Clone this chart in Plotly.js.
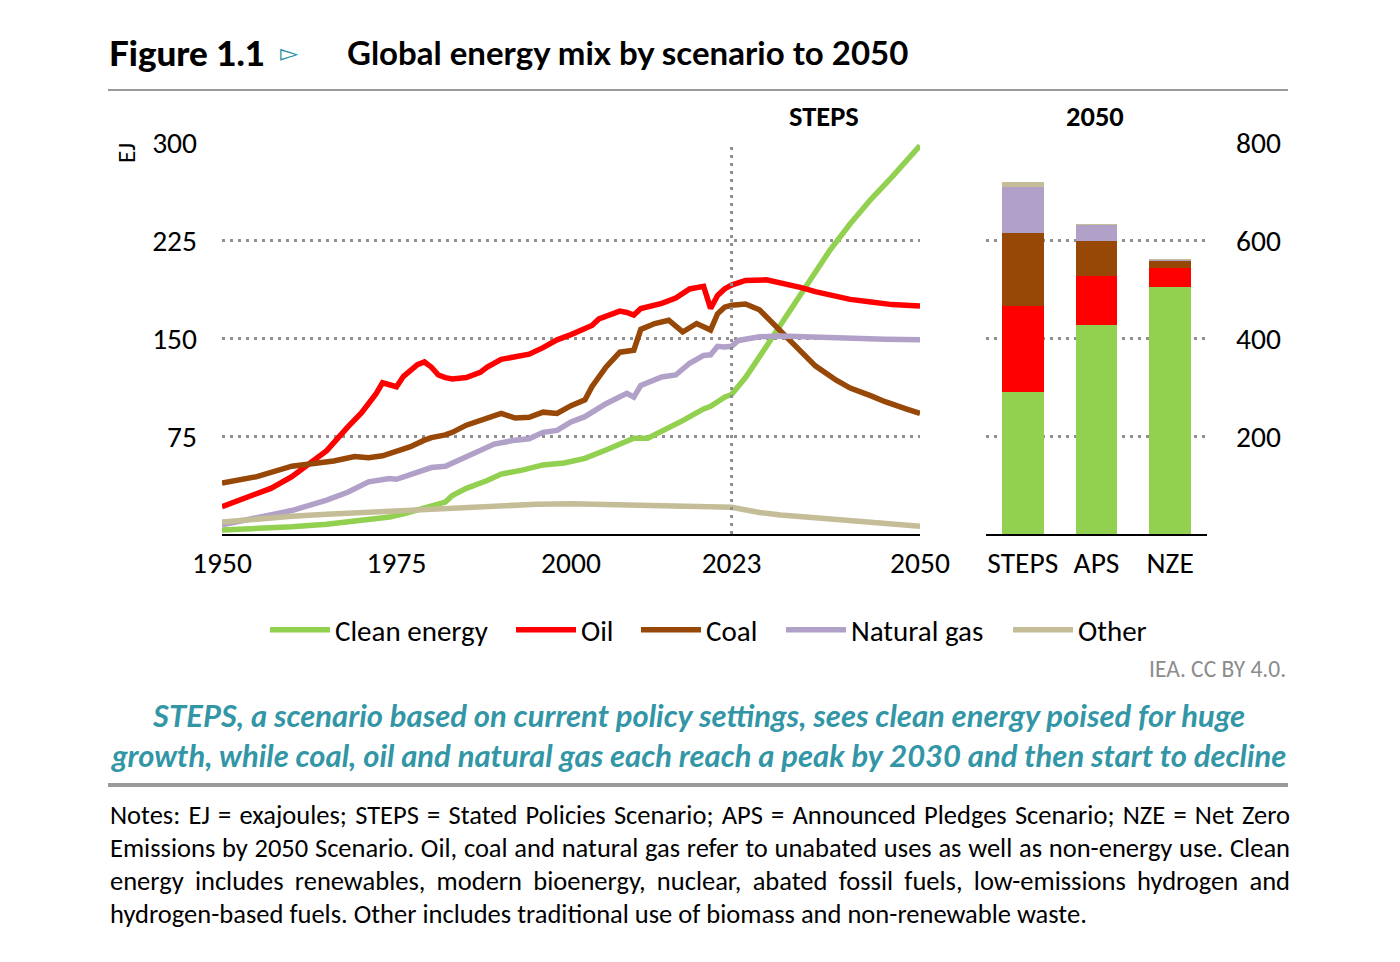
<!DOCTYPE html>
<html><head><meta charset="utf-8">
<script src="https://cdn.plot.ly/plotly-3.0.1.min.js"></script>
<style>html,body{margin:0;padding:0;background:#fff;}#chart{width:1400px;height:962px;}</style>
</head><body><div id="chart"></div>
<script>
// ---------- DATA (EJ) ----------
const cleanYears  = [1950,1955,1960,1965,1968,1971,1974,1976,1979,1982,1983,1985,1988,1990,1993,1996,1999,2002,2005,2007,2009,2011,2014,2016,2019,2020,2021,2022,2023,2025,2028,2031,2034,2037,2040,2043,2046,2050];
const cleanValues = [3,4,5.5,7.5,9,11,13,15.5,20.5,24.5,29.5,35,41,46,49,53,54.5,58,64.5,69.5,73.5,73.5,81,87,96,98,101.5,105,107,120,144,168,193,217,238,257,274,298];

const oilYears  = [1950,1953,1955,1957,1960,1962,1965,1968,1970,1972,1973,1975,1976,1978,1979,1980,1981,1982,1983,1985,1987,1988,1990,1992,1994,1996,1998,2000,2002,2003,2004,2006,2007,2008,2009,2010,2012,2013,2015,2016,2017,2019,2020,2021,2022,2023,2025,2028,2030,2033,2035,2038,2040,2043,2046,2050];
const oilValues = [21,27,31,35,44,52,64,82,93,107,116,113,121,130,132,128,122,120,119,120,124,128,134,136,138,143,149,153,157,160,165,169,171,170,168,173,175,177,181,185,188,190,173,183,188,191,194.5,195,193,189,186,182,180,178,176,175];

const coalYears  = [1950,1955,1960,1963,1966,1969,1971,1973,1975,1977,1979,1980,1982,1983,1985,1987,1989,1990,1992,1994,1996,1998,2000,2002,2003,2005,2007,2009,2010,2012,2014,2016,2018,2020,2021,2022,2023,2025,2027,2030,2033,2035,2038,2040,2043,2045,2048,2050];
const coalValues = [39,44,52,54,56,59.5,58.5,60,63,67,72,74,76,78,83.5,87,91,92.5,89,89.5,93.5,92.5,98.5,103,113,128,139.5,141,157,161.5,164,155,161.5,156.5,169,174,175.5,176.5,172,156,139,129,118,112,106,101.5,96,92.5];

const gasYears  = [1950,1955,1960,1965,1968,1971,1974,1975,1977,1980,1982,1985,1987,1989,1992,1994,1996,1998,2000,2002,2005,2008,2009,2010,2013,2015,2017,2019,2020,2021,2022,2023,2024,2027,2030,2035,2040,2045,2050];
const gasValues = [7,13,18,26,32,40,42.5,42,46,51,52,59,64,69,72,73,78,79.5,86,90,100,108,105,114,120.5,122,131,137,137.5,144,143.5,144,148.5,151.3,152,151,149.5,149.5,149];

const otherYears  = [1950,1955,1960,1965,1970,1975,1980,1985,1990,1995,2000,2005,2010,2015,2020,2023,2027,2030,2035,2040,2045,2050];
const otherValues = [9.2,11.8,13.6,15.1,16.4,17.7,19,20.5,21.8,22.8,23.3,22.7,22,21,20.5,20.5,16.5,14.5,12.5,10.5,8.5,6];

const scenarios = ['STEPS','APS','NZE'];
const barClean = [291,427,505];
const barOil   = [176,100,40];
const barCoal  = [149,73,14];
const barGas   = [94,32,1];
const barOther = [11,3,3];

const xTicks = [1950,1975,2000,2023,2050];
const yTicksLeft = [75,150,225,300];
const yTicksRight = [200,400,600,800];

// ---------- STYLE ----------
const C = {clean:'#92d050', oil:'#ff0000', coal:'#974706', gas:'#b1a0c7', other:'#c4bd97'};
const FONT = "Carlito, 'Liberation Sans Narrow', 'Open Sans', sans-serif";
const TFONT = "Lato, 'Open Sans', sans-serif";
const W = 1400, H = 962;
const px = v => v / W, py = v => 1 - v / H;
const LW = 5.5;

const line = (name, xs, ys, col) => ({type:'scatter', mode:'lines', name, x:xs, y:ys, xaxis:'x', yaxis:'y',
  line:{color:col, width:LW}, hoverinfo:'skip'});
const bar = (name, ys, col) => ({type:'bar', name, x:scenarios, y:ys, xaxis:'x2', yaxis:'y2',
  marker:{color:col, line:{width:0}}, showlegend:false, hoverinfo:'skip'});

const data = [
  line('Clean energy', cleanYears, cleanValues, C.clean),
  line('Oil', oilYears, oilValues, C.oil),
  line('Coal', coalYears, coalValues, C.coal),
  line('Natural gas', gasYears, gasValues, C.gas),
  line('Other', otherYears, otherValues, C.other),
  bar('Clean energy', barClean, C.clean),
  bar('Oil', barOil, C.oil),
  bar('Coal', barCoal, C.coal),
  bar('Natural gas', barGas, C.gas),
  bar('Other', barOther, C.other)
];

const yDom = [py(534), py(143)];
const gridStyle = {showgrid:true, gridcolor:'#8f8f8f', gridwidth:3, griddash:'3px,5px'};
const tickFont = {family:FONT, size:29.5, color:'#000'};

const noteLines = [
  'Notes: EJ = exajoules; STEPS = Stated Policies Scenario; APS = Announced Pledges Scenario; NZE = Net Zero',
  'Emissions by 2050 Scenario. Oil, coal and natural gas refer to unabated uses as well as non-energy use. Clean',
  'energy includes renewables, modern bioenergy, nuclear, abated fossil fuels, low-emissions hydrogen and',
  'hydrogen-based fuels. Other includes traditional use of biomass and non-renewable waste.'
];
const noteY = [815, 848, 881, 914];

const ann = [
  {text:'Figure 1.1', x:px(107), y:py(52), xanchor:'left', yanchor:'middle', font:{family:TFONT, size:35, weight:900, color:'#000'}},
  {text:'\u25BB', x:px(289), y:py(53), xanchor:'center', yanchor:'middle', font:{family:'DejaVu Sans', size:24, color:'#2e95a6'}},
  {text:'Global energy mix by scenario to 2050', x:px(345), y:py(52), xanchor:'left', yanchor:'middle', font:{family:TFONT, size:33, weight:700, color:'#000'}},
  {text:'<b>STEPS</b>', x:px(824), y:py(117), xanchor:'center', yanchor:'middle', font:{family:FONT, size:28.5, color:'#000'}},
  {text:'<b>2050</b>', x:px(1095), y:py(117), xanchor:'center', yanchor:'middle', font:{family:FONT, size:28.5, color:'#000'}},
  {text:'EJ', x:px(127), y:py(153), xanchor:'center', yanchor:'middle', textangle:-90, font:{family:FONT, size:25, color:'#000'}},
  {text:'IEA. CC BY 4.0.', x:px(1288), y:py(669), xanchor:'right', yanchor:'middle', font:{family:FONT, size:23.5, color:'#8c8c8c'}},
  {text:'<b><i>STEPS, a scenario based on current policy settings, sees clean energy poised for huge</i></b>', x:px(698), y:py(715), xanchor:'center', yanchor:'middle', font:{family:TFONT, size:31, color:'#3396a6'}},
  {text:'<b><i>growth, while coal, oil and natural gas each reach a peak by 2030 and then start to decline</i></b>', x:px(698), y:py(755), xanchor:'center', yanchor:'middle', font:{family:TFONT, size:31, color:'#3396a6'}}
];
noteLines.forEach((t,i) => ann.push({text:t, x:px(108), y:py(noteY[i]), xanchor:'left', yanchor:'middle', font:{family:FONT, size:26.5, color:'#000'}}));
ann.forEach(a => { a.xref='paper'; a.yref='paper'; a.showarrow=false; });

const layout = {
  width:W, height:H, margin:{l:0,r:0,t:0,b:0},
  paper_bgcolor:'#ffffff', plot_bgcolor:'rgba(0,0,0,0)',
  font:{family:FONT, color:'#000'},
  barmode:'stack', bargap:0.43,
  showlegend:true,
  xaxis:{domain:[px(222),px(920)], range:[1950,2050], anchor:'y', tickvals:xTicks, ticktext:xTicks.map(String),
    showgrid:false, zeroline:false, showline:true, linecolor:'#000', linewidth:2, ticks:'', tickfont:tickFont, ticklabelstandoff:2},
  yaxis:Object.assign({domain:yDom, range:[0,300], anchor:'x', tickvals:yTicksLeft, zeroline:false, showline:false,
    ticks:'', tickfont:tickFont, ticklabelstandoff:24}, gridStyle),
  xaxis2:{domain:[px(986),px(1207)], anchor:'y2', type:'category', showgrid:false, zeroline:false, showline:true,
    linecolor:'#000', linewidth:2, ticks:'', tickfont:tickFont, ticklabelstandoff:2},
  yaxis2:Object.assign({domain:yDom, range:[0,800], anchor:'x2', side:'right', tickvals:yTicksRight, zeroline:false,
    showline:false, ticks:'', tickfont:tickFont, ticklabelstandoff:28}, gridStyle),
  legend:{orientation:'h', x:px(706), xanchor:'center', y:py(630), yanchor:'middle', font:{family:FONT, size:29, color:'#000'},
    itemwidth:60, bgcolor:'rgba(0,0,0,0)', traceorder:'normal'},
  shapes:[
    {type:'line', xref:'paper', yref:'paper', x0:px(108), x1:px(1288), y0:py(90), y1:py(90), line:{color:'#9a9a9a', width:2}},
    {type:'line', xref:'paper', yref:'paper', x0:px(108), x1:px(1288), y0:py(785), y1:py(785), line:{color:'#9a9a9a', width:4}},
    {type:'line', xref:'x', yref:'y', x0:2023, x1:2023, y0:0, y1:300, layer:'above', line:{color:'#8f8f8f', width:3, dash:'3px,5px'}}
  ],
  annotations:ann
};

// legend entry start positions of the original (px) — layout positions only
const legendStarts = [270, 516, 641, 786, 1013];

Plotly.newPlot('chart', data, layout, {staticPlot:true, displayModeBar:false}).then(gd => {
  // justify the first three note lines across the 1180px text block, left edge at 108px
  const targetW = 1180;
  gd.querySelectorAll('.annotation-text').forEach(el => {
    const t = el.textContent;
    const idx = noteLines.indexOf(t);
    if (idx < 0) return;
    const len = el.getComputedTextLength();
    const cx = parseFloat(el.getAttribute('x')) || 0;
    const shift = cx - len / 2;
    const spaces = (t.match(/ /g) || []).length;
    el.setAttribute('text-anchor', 'start');
    el.setAttribute('x', shift);
    el.querySelectorAll('tspan[x]').forEach(ts => ts.setAttribute('x', shift));
    if (idx < noteLines.length - 1 && spaces > 0 && len < targetW) {
      el.style.wordSpacing = ((targetW - len) / spaces) + 'px';
    }
  });
  // let the legend entries spread beyond Plotly's own legend box
  gd.querySelectorAll('.legend [clip-path]').forEach(n => n.removeAttribute('clip-path'));
  const lg = gd.querySelector('.legend');
  if (lg) lg.removeAttribute('clip-path');
  // spread legend entries to the original spacing
  const items = gd.querySelectorAll('.legend .traces');
  items.forEach((g, i) => {
    if (i >= legendStarts.length) return;
    const p = g.querySelector('.legendlines path') || g;
    const r = p.getBoundingClientRect();
    const dx = legendStarts[i] - r.left;
    const tr = g.getAttribute('transform') || '';
    const m = tr.match(/translate\(\s*([-\d.e]+)[ ,]+([-\d.e]+)\s*\)/);
    if (m) g.setAttribute('transform', 'translate(' + (parseFloat(m[1]) + dx) + ',' + m[2] + ')');
  });
});
</script></body></html>
